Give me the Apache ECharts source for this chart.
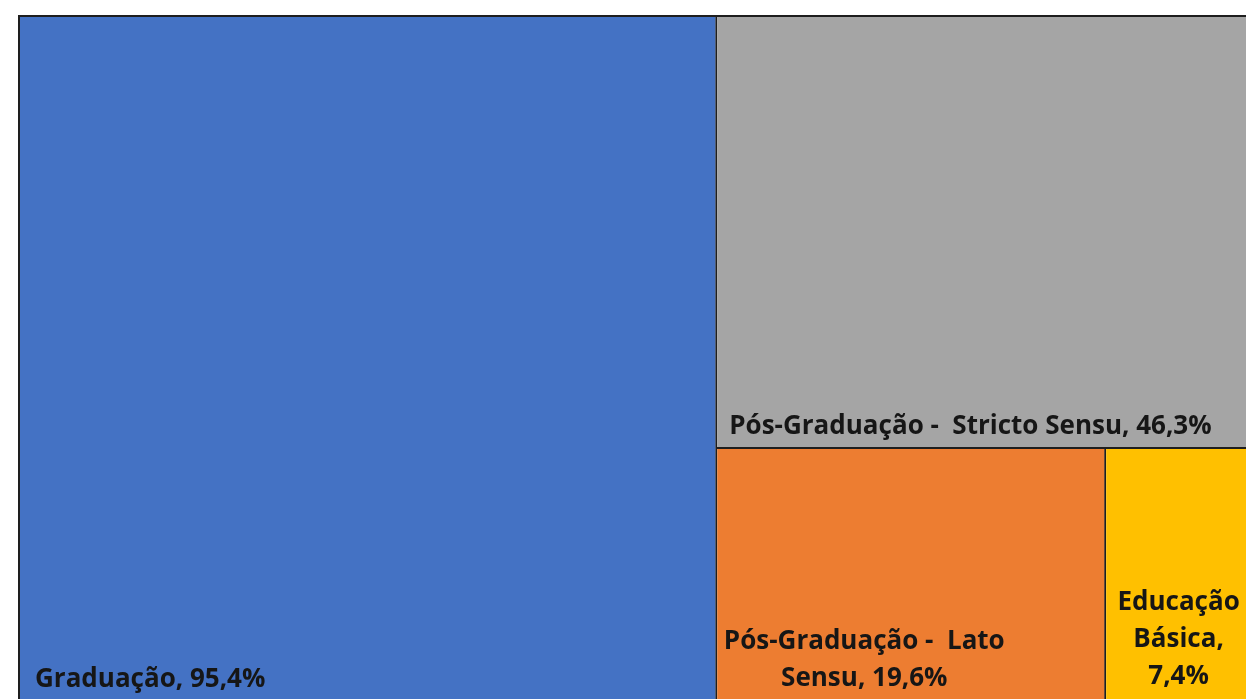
<!DOCTYPE html>
<html>
<head>
<meta charset="utf-8">
<script src="https://cdn.jsdelivr.net/npm/echarts@6/dist/echarts.min.js"></script>
<style>
html,body{margin:0;padding:0;background:#fff;}
#c{width:1246px;height:699px;}
</style>
</head>
<body>
<div id="c"></div>
<script>
const categories = ['Graduação', 'Pós-Graduação -  Stricto Sensu', 'Pós-Graduação -  Lato Sensu', 'Educação Básica'];
const values = [95.4, 46.3, 19.6, 7.4];
const labelLines = ['Graduação, 95,4%', 'Pós-Graduação -  Stricto Sensu, 46,3%', 'Pós-Graduação -  Lato\nSensu, 19,6%', 'Educação\nBásica,\n7,4%'];
const colors = ['#4472C4', '#A5A5A5', '#ED7D31', '#FFC000'];

const labelPos = [
  {position: [10, '100%'], align: 'left', verticalAlign: 'bottom', offset: [0, 4]},
  {position: [7, '100%'], align: 'left', verticalAlign: 'bottom', offset: [0, 3]},
  {position: ['38%', '100%'], align: 'center', verticalAlign: 'bottom', offset: [0, 3]},
  {position: ['50%', '100%'], align: 'center', verticalAlign: 'bottom', offset: [0, 1]}
];

const data = categories.map((name, i) => ({
  name: name,
  value: values[i],
  itemStyle: {color: colors[i]},
  label: Object.assign({formatter: labelLines[i]}, labelPos[i])
}));

const chart = echarts.init(document.getElementById('c'), null, {renderer: 'canvas'});
chart.setOption({
  animation: false,
  series: [{
    type: 'treemap',
    left: 18, top: 15, width: 1235, height: 686,
    roam: false,
    nodeClick: false,
    breadcrumb: {show: false},
    squareRatio: 1,
    label: {
      show: true,
      color: '#161616',
      fontFamily: 'Open Sans',
      fontWeight: 'bold',
      fontSize: 26,
      lineHeight: 37,
      overflow: 'none'
    },
    levels: [
      {itemStyle: {borderColor: '#1e1e1e', borderWidth: 2, gapWidth: 2}},
      {itemStyle: {borderWidth: 0, gapWidth: 0}}
    ],
    data: data
  }]
});
</script>
</body>
</html>
